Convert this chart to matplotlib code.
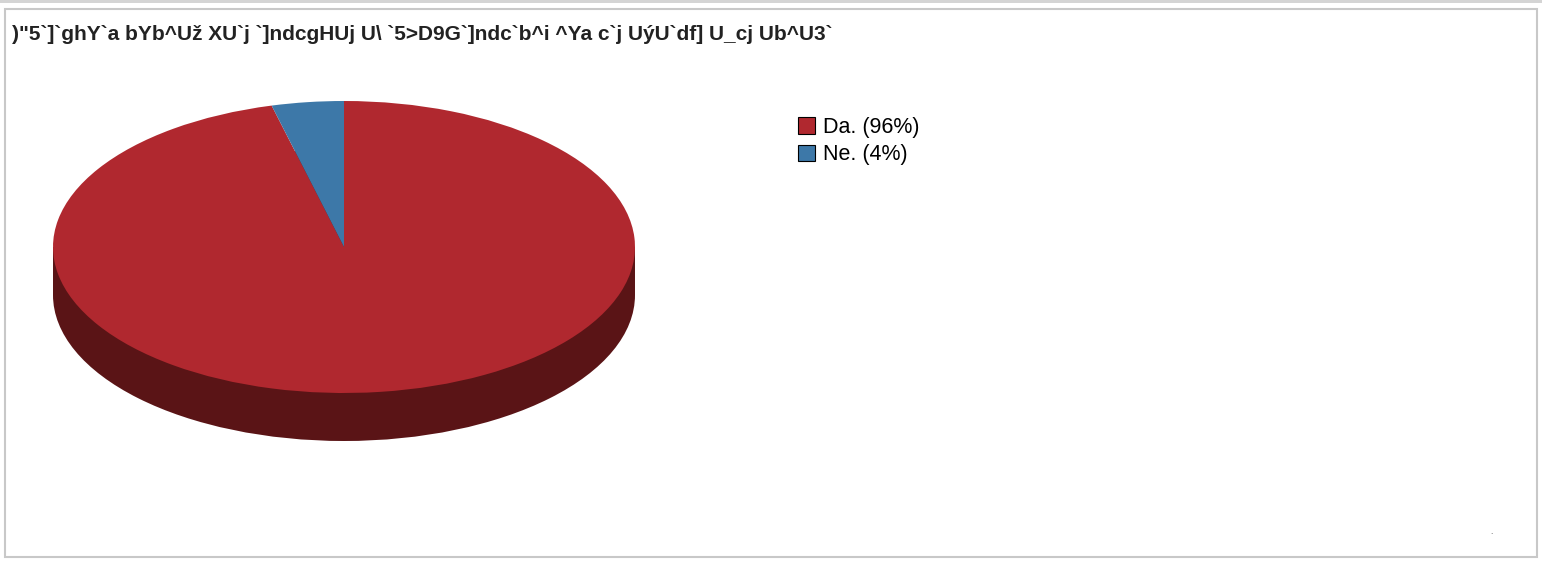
import matplotlib
matplotlib.use('Agg')
import matplotlib.pyplot as plt
from matplotlib.patches import Ellipse, Rectangle, Patch

# ── Datos ─────────────────────────────────────────────────────────────────────
title = ')"5`]`ghY`a bYb^U\u017e XU`j `]ndcgHUj U\\ `5>D9G`]ndc`b^i ^Ya c`j U\u00fdU`df] U_cj Ub^U3`'
labels = ['Da.', 'Ne.']
shares = [96, 4]
colors = ['#b0282f', '#3d78a8']
side_color = '#5a1416'

W, H = 1542, 563
fig = plt.figure(figsize=(W / 100, H / 100), dpi=100)
plt.rcParams['font.family'] = ['Liberation Sans', 'DejaVu Sans']

# marco
fig.patches.append(Rectangle((0, 1 - 3 / H), 1, 3 / H, transform=fig.transFigure,
                             facecolor='#d4d4d4', edgecolor='none', zorder=-2))
fig.patches.append(Rectangle((5 / W, 6 / H), 1532 / W, 548 / H, transform=fig.transFigure,
                             facecolor='white', edgecolor='#c8c8c8', linewidth=1.5, zorder=-2))

fig.text(12 / W, 1 - 34 / H, title, fontsize=15, fontweight='bold', va='center',
         ha='left', color='#222222')

# ── Pastel 3D ────────────────────────────────────────────────────────────────
depth = 48 / 146
left, right, top, bottom = 53, 635, 101, 441
ax = fig.add_axes([left / W, 1 - bottom / H, (right - left) / W, (bottom - top) / H])
ax.pie(shares, colors=colors, startangle=90, counterclock=False,
       wedgeprops=dict(linewidth=0))
for w in ax.patches:
    w.set_zorder(3)
ax.add_patch(Ellipse((0, -depth), 2, 2, facecolor=side_color, edgecolor='none', zorder=1))
ax.add_patch(Rectangle((-1, -depth), 2, depth, facecolor=side_color, edgecolor='none', zorder=1))
ax.set_aspect('auto')
ax.set_xlim(-1, 1)
ax.set_ylim(-1 - depth, 1)
ax.axis('off')

# ── Leyenda ──────────────────────────────────────────────────────────────────
handles = [Patch(facecolor=c, edgecolor='black', linewidth=0.8) for c in colors]
names = [f'{l} ({s}%)' for l, s in zip(labels, shares)]
fig.legend(handles, names, loc='upper left', bbox_to_anchor=(798 / W, 1 - 117 / H),
           frameon=False, fontsize=15.5, handlelength=0.8, handleheight=0.8,
           handletextpad=0.35, labelspacing=0.3, borderpad=0, borderaxespad=0)

fig.text(1490 / W, 1 - 534 / H, '.', fontsize=6, color='#444444')

plt.savefig('out.png', dpi=100)
plt.close()
